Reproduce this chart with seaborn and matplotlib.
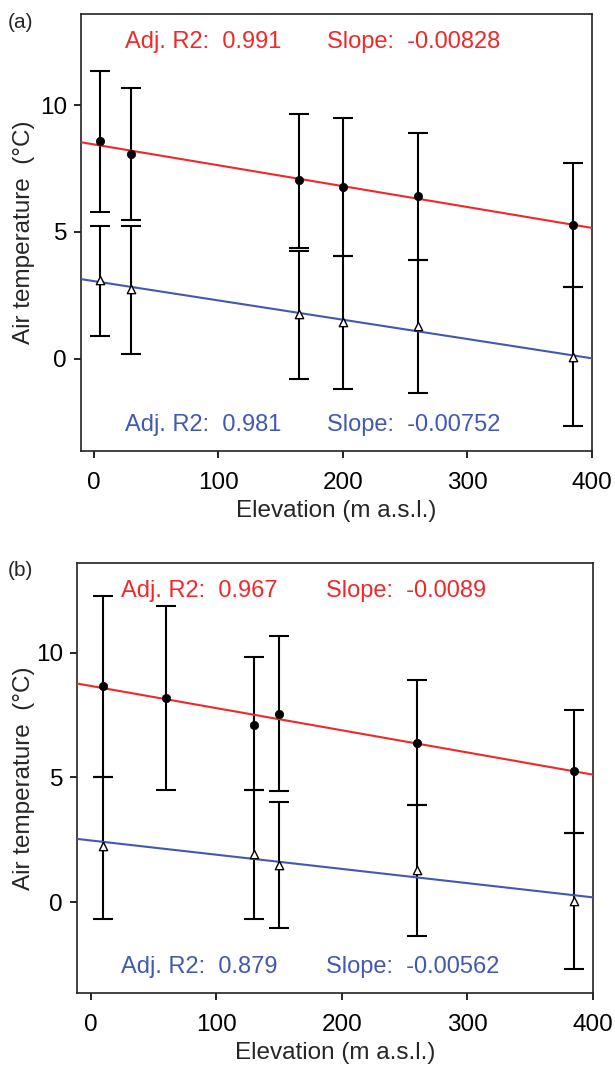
import matplotlib
matplotlib.use('Agg')
import numpy as np
import matplotlib.pyplot as plt
import seaborn as sns

# Panel (a): stations, means and error-bar ends (deg C)
elev_a = [5, 30, 165, 200, 260, 385]
red_mean_a = [8.57, 8.06, 7.03, 6.76, 6.41, 5.27]
red_low_a = [5.77, 5.48, 4.37, 4.05, 3.90, 2.82]
red_high_a = [11.35, 10.68, 9.66, 9.49, 8.90, 7.70]
blue_mean_a = [3.11, 2.74, 1.74, 1.43, 1.29, 0.06]
blue_low_a = [0.88, 0.18, -0.82, -1.21, -1.36, -2.68]
blue_high_a = [5.22, 5.22, 4.24, 4.05, 3.90, 2.82]

# Panel (b)
elev_b = [10, 60, 130, 150, 260, 385]
red_mean_b = [8.65, 8.20, 7.12, 7.54, 6.39, 5.26]
red_low_b = [5.03, 4.51, 4.51, 4.46, 3.89, 2.78]
red_high_b = [12.27, 11.89, 9.81, 10.69, 8.90, 7.69]
elev_b_blue = [10, 130, 150, 260, 385]
blue_mean_b = [2.24, 1.94, 1.49, 1.30, 0.04]
blue_low_b = [-0.70, -0.67, -1.06, -1.36, -2.68]
blue_high_b = [5.03, 4.51, 4.02, 3.89, 2.78]

# Fit statistics shown on the panels
red_stats = [('0.991', '-0.00828'), ('0.967', '-0.0089')]
blue_stats = [('0.981', '-0.00752'), ('0.879', '-0.00562')]
panel_tags = ['(a)', '(b)']

x_ticks = [0, 100, 200, 300, 400]
y_ticks = [0, 5, 10]

RED = '#f0282a'
BLUE = '#4258b2'
FS = 17.5

sns.set_style('ticks')
plt.rcParams['font.family'] = ['Liberation Sans', 'DejaVu Sans']

fig = plt.figure(figsize=(6.15, 10.82), dpi=100)
W, H = 615, 1082

# axes boxes in pixels: left, right, top, bottom
boxes = [(81, 592, 14, 451), (77, 593, 563, 993)]
xlims = [(-10.4, 400), (-10.9, 400)]

panels = [
    (elev_a, red_mean_a, red_low_a, red_high_a, elev_a, blue_mean_a, blue_low_a, blue_high_a),
    (elev_b, red_mean_b, red_low_b, red_high_b, elev_b_blue, blue_mean_b, blue_low_b, blue_high_b),
]

for i, (xr, rm, rl, rh, xb, bm, bl, bh) in enumerate(panels):
    l, r, t, b = boxes[i]
    ax = fig.add_axes([l / W, 1 - b / H, (r - l) / W, (b - t) / H])
    ax.set_xlim(*xlims[i])
    ax.set_ylim(-3.65, 13.6)

    rm, rl, rh = np.array(rm), np.array(rl), np.array(rh)
    bm, bl, bh = np.array(bm), np.array(bl), np.array(bh)

    # error bars
    ax.errorbar(xr, rm, yerr=[rm - rl, rh - rm], fmt='none', ecolor='black',
                elinewidth=1.5, capsize=7, capthick=1.5, zorder=2)
    ax.errorbar(xb, bm, yerr=[bm - bl, bh - bm], fmt='none', ecolor='black',
                elinewidth=1.5, capsize=7, capthick=1.5, zorder=2)

    # regression lines across the whole axis
    sns.regplot(x=xr, y=rm, ax=ax, scatter=False, ci=None, truncate=False,
                color=RED, line_kws={'lw': 1.5, 'zorder': 3})
    sns.regplot(x=xb, y=bm, ax=ax, scatter=False, ci=None, truncate=False,
                color=BLUE, line_kws={'lw': 1.5, 'zorder': 3})

    # means
    sns.scatterplot(x=xr, y=rm, ax=ax, marker='o', color='black', s=36,
                    edgecolor='black', linewidth=0.5, zorder=4)
    sns.scatterplot(x=xb, y=bm, ax=ax, marker='^', facecolor='white', s=36,
                    edgecolor='black', linewidth=1.0, zorder=4)

    ax.set_xlim(*xlims[i])
    ax.set_ylim(-3.65, 13.6)
    ax.set_xticks(x_ticks)
    ax.set_yticks(y_ticks)
    ax.tick_params(direction='out', length=5, width=1.2, labelsize=FS,
                   colors='black', pad=5)
    ax.tick_params(axis='x', pad=10)
    for sp in ax.spines.values():
        sp.set_linewidth(1.2)
        sp.set_color('#222222')
    ax.set_xlabel('')
    ax.set_ylabel('')

    ax.text(0.086, 0.935, 'Adj. R2:  ' + red_stats[i][0], color=RED,
            fontsize=17, transform=ax.transAxes, va='center')
    ax.text(0.482, 0.935, 'Slope:  ' + red_stats[i][1], color=RED,
            fontsize=17, transform=ax.transAxes, va='center')
    ax.text(0.086, 0.06, 'Adj. R2:  ' + blue_stats[i][0], color=BLUE,
            fontsize=17, transform=ax.transAxes, va='center')
    ax.text(0.482, 0.06, 'Slope:  ' + blue_stats[i][1], color=BLUE,
            fontsize=17, transform=ax.transAxes, va='center')

    fig.text(24 / W, 1 - (t + b) / 2 / H, 'Air temperature  (\u00b0C)', rotation=90,
             ha='center', va='center', fontsize=FS)
    fig.text((l + r) / 2 / W, 1 - (b + 60) / H, 'Elevation (m a.s.l.)',
             ha='center', va='center', fontsize=FS)
    fig.text(8 / W, 1 - (t + 8) / H, panel_tags[i], ha='left', va='center',
             fontsize=15)

fig.savefig('out.png', dpi=100)
